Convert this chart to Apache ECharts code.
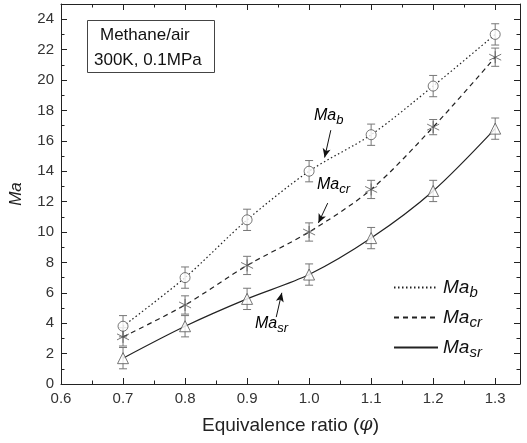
<!DOCTYPE html>
<html>
<head>
<meta charset="utf-8">
<script src="https://cdn.jsdelivr.net/npm/echarts@6/dist/echarts.min.js"></script>
<style>
    html, body { margin: 0; padding: 0; background: #fff; }
    #chart { width: 527px; height: 443px; }
</style>
</head>
<body>
<div id="chart"></div>
<script>
// 数据部分
var phi = [0.7, 0.8, 0.9, 1.0, 1.1, 1.2, 1.3];
var maB = [3.8, 7.0, 10.8, 14.0, 16.4, 19.6, 23.0];
var maCr = [3.1, 5.2, 7.8, 10.0, 12.8, 16.9, 21.5];
var maSr = [1.7, 3.8, 5.6, 7.2, 9.6, 12.7, 16.8];
var errB = [0.7, 0.7, 0.7, 0.7, 0.7, 0.7, 0.7];
var errCr = [0.6, 0.6, 0.6, 0.6, 0.6, 0.5, 0.6];
var errSr = [0.7, 0.7, 0.7, 0.7, 0.7, 0.7, 0.7];

var FONT = 'Liberation Sans, Arial, sans-serif';
var STAR = 'path://M0,-10L0,10M-8.66,-5L8.66,5M-8.66,5L8.66,-5';

function pairs(vals) {
    var arr = [];
    for (var i = 0; i < phi.length; i++) {
        arr.push([phi[i], vals[i]]);
    }
    return arr;
}

function errData(vals, errs) {
    var arr = [];
    for (var i = 0; i < phi.length; i++) {
        arr.push([phi[i], vals[i] - errs[i], vals[i] + errs[i]]);
    }
    return arr;
}

// 误差棒
function errorBar(vals, errs) {
    return {
        type: 'custom',
        silent: true,
        z: 3,
        renderItem: function (params, api) {
            var lo = api.coord([api.value(0), api.value(1)]);
            var hi = api.coord([api.value(0), api.value(2)]);
            var w = 4;
            var st = {stroke: '#777', lineWidth: 1};
            return {
                type: 'group',
                children: [
                    {type: 'line', shape: {x1: lo[0], y1: lo[1], x2: hi[0], y2: hi[1]}, style: st},
                    {type: 'line', shape: {x1: lo[0] - w, y1: lo[1], x2: lo[0] + w, y2: lo[1]}, style: st},
                    {type: 'line', shape: {x1: hi[0] - w, y1: hi[1], x2: hi[0] + w, y2: hi[1]}, style: st}
                ]
            };
        },
        encode: {x: 0, y: [1, 2]},
        data: errData(vals, errs)
    };
}

function markers(vals, symbol, size) {
    return {
        type: 'scatter',
        symbol: symbol,
        symbolSize: size,
        z: 4,
        itemStyle: {color: symbol === STAR ? 'none' : '#fff', borderColor: '#555', borderWidth: 1},
        data: pairs(vals)
    };
}

function fitLine(name, vals, lineType) {
    return {
        name: name,
        type: 'line',
        smooth: 0.3,
        symbol: 'none',
        z: 2,
        itemStyle: {color: '#222'},
        lineStyle: {color: '#222', width: 1.2, type: lineType},
        data: pairs(vals)
    };
}

function arrow(from, to) {
    return {
        type: 'line',
        silent: true,
        data: [],
        markLine: {
            silent: true,
            symbol: ['none', 'arrow'],
            symbolSize: [6, 9],
            label: {show: false},
            lineStyle: {color: '#111', width: 1, type: 'solid'},
            data: [[{coord: from}, {coord: to}]]
        }
    };
}

var subRich = {
    m: {fontFamily: FONT, fontStyle: 'italic', fontSize: 16, color: '#111'},
    s: {fontFamily: FONT, fontStyle: 'italic', fontSize: 13, color: '#111', padding: [9, 0, 0, 0]}
};
var legRich = {
    m: {fontFamily: FONT, fontStyle: 'italic', fontSize: 19, color: '#111'},
    s: {fontFamily: FONT, fontStyle: 'italic', fontSize: 15, color: '#111', padding: [10, 0, 0, 0]}
};

function subLabel(left, top, sub) {
    return {
        type: 'text', left: left, top: top,
        style: {text: '{m|Ma}{s|' + sub + '}', rich: subRich}
    };
}

var chart = echarts.init(document.getElementById('chart'));

// 刻度朝内
function axisStyle() {
    return {
        axisLine: {show: true, onZero: false, lineStyle: {color: '#222', width: 1}},
        axisTick: {show: true, inside: true, length: 6, lineStyle: {color: '#222', width: 1}},
        minorTick: {show: true, splitNumber: 2, length: 3.5, lineStyle: {color: '#222', width: 1}},
        splitLine: {show: false}
    };
}

var option = {
    animation: false,
    backgroundColor: '#fff',
    grid: {left: 57, right: 7, top: 4, bottom: 59},
    xAxis: [
        Object.assign({
            type: 'value', min: 0.6, max: 1.34, interval: 0.1, position: 'bottom',
            name: '{a|Equivalence ratio (}{b|φ}{a|)}', nameLocation: 'middle', nameGap: 32,
            nameTextStyle: {rich: {
                a: {fontFamily: FONT, fontSize: 19, color: '#222'},
                b: {fontFamily: 'DejaVu Serif, serif', fontStyle: 'italic', fontSize: 19, color: '#222'}
            }},
            axisLabel: {
                fontFamily: FONT, fontSize: 15, color: '#333', margin: 7, showMaxLabel: false,
                formatter: function (v) { return v.toFixed(1); }
            }
        }, axisStyle()),
        Object.assign({
            type: 'value', min: 0.6, max: 1.34, interval: 0.1, position: 'top',
            axisLabel: {show: false}
        }, axisStyle())
    ],
    yAxis: [
        Object.assign({
            type: 'value', min: 0, max: 25, interval: 2, position: 'left',
            name: 'Ma', nameLocation: 'middle', nameGap: 36,
            nameTextStyle: {fontFamily: FONT, fontStyle: 'italic', fontSize: 17, color: '#222'},
            axisLabel: {fontFamily: FONT, fontSize: 15, color: '#333', margin: 7, showMaxLabel: false}
        }, axisStyle()),
        Object.assign({
            type: 'value', min: 0, max: 25, interval: 2, position: 'right',
            axisLabel: {show: false}
        }, axisStyle())
    ],
    legend: {
        orient: 'vertical',
        left: 393,
        top: 278,
        padding: 0,
        itemWidth: 44,
        itemHeight: 20,
        itemGap: 8,
        itemStyle: {opacity: 0},
        data: ['b', 'cr', 'sr'],
        formatter: function (name) { return '{m|Ma}{s|' + name + '}'; },
        textStyle: {rich: legRich}
    },
    graphic: [
        {
            type: 'rect', left: 87, top: 20,
            shape: {width: 127, height: 52},
            style: {fill: '#fff', stroke: '#444', lineWidth: 1}
        },
        {
            type: 'text', left: 100, top: 27,
            style: {text: 'Methane/air', fontFamily: FONT, fontSize: 17, fill: '#111'}
        },
        {
            type: 'text', left: 94, top: 52,
            style: {text: '300K, 0.1MPa', fontFamily: FONT, fontSize: 17, fill: '#111'}
        },
        subLabel(314, 108, 'b'),
        subLabel(317, 177, 'cr'),
        subLabel(255, 316, 'sr')
    ],
    series: [
        fitLine('b', maB, [1.5, 2.5]),
        fitLine('cr', maCr, [5, 4]),
        fitLine('sr', maSr, 'solid'),
        errorBar(maB, errB),
        errorBar(maCr, errCr),
        errorBar(maSr, errSr),
        markers(maB, 'circle', 10),
        markers(maCr, STAR, 12),
        markers(maSr, 'triangle', 11),
        arrow([1.035, 16.7], [1.025, 14.9]),
        arrow([1.030, 11.9], [1.015, 10.6]),
        arrow([0.947, 4.4], [0.956, 6.0])
    ]
};

chart.setOption(option);
</script>
</body>
</html>
